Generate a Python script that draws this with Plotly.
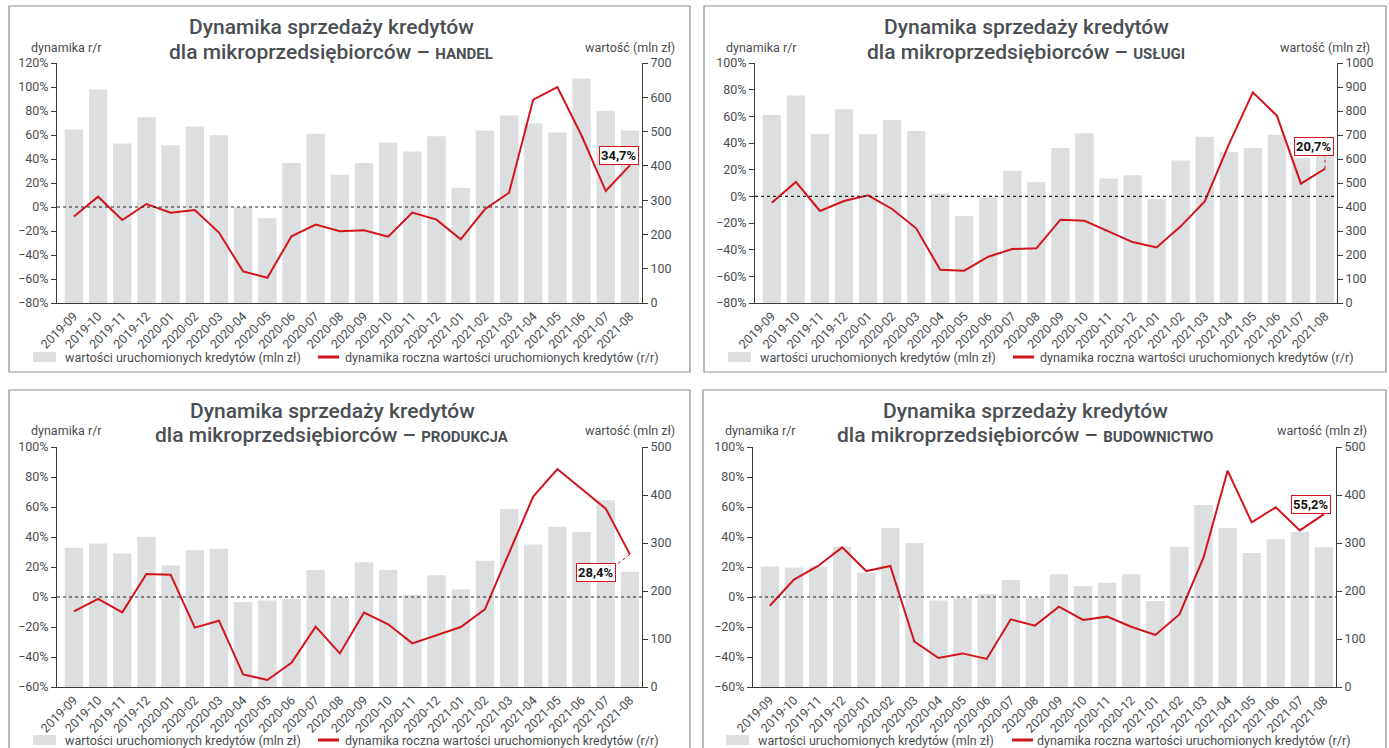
import plotly.graph_objects as go

# ---------------- data ----------------
months = ["2019-09", "2019-10", "2019-11", "2019-12", "2020-01", "2020-02", "2020-03",
          "2020-04", "2020-05", "2020-06", "2020-07", "2020-08", "2020-09", "2020-10",
          "2020-11", "2020-12", "2021-01", "2021-02", "2021-03", "2021-04", "2021-05",
          "2021-06", "2021-07", "2021-08"]

handel_val = [506, 623, 465, 542, 460, 515, 489, 279, 247, 408, 494, 374, 408, 468,
              442, 486, 336, 503, 547, 524, 497, 655, 561, 503]
handel_dyn = [-8.0, 8.6, -10.8, 2.5, -4.7, -2.5, -21.3, -53.7, -59.0, -24.4, -14.7, -20.2,
              -19.4, -24.7, -4.7, -10.5, -26.9, -1.9, 11.9, 89.5, 100.0, 59.6, 13.3, 34.7]

uslugi_val = [783, 865, 704, 807, 703, 762, 717, 456, 362, 440, 551, 504, 646, 707,
              519, 532, 433, 594, 693, 629, 646, 701, 604, 611]
uslugi_dyn = [-4.8, 10.8, -11.0, -3.5, 0.8, -9.5, -24.0, -55.0, -55.8, -45.3, -39.5, -39.0,
              -17.5, -18.3, -26.3, -34.3, -38.3, -22.5, -3.8, 38.8, 78.0, 60.5, 9.5, 20.7]

produkcja_val = [290, 299, 278, 313, 253, 285, 288, 177, 180, 184, 244, 187, 260, 244,
                 192, 233, 203, 263, 371, 297, 334, 323, 389, 240]
produkcja_dyn = [-9.6, -1.3, -10.2, 15.3, 14.9, -20.4, -15.8, -51.6, -55.3, -43.8, -19.8, -37.6,
                 -10.4, -18.2, -30.9, -25.3, -20.0, -8.2, 30.0, 66.9, 85.3, 71.8, 58.9, 28.4]

budownictwo_val = [251, 249, 251, 292, 238, 331, 300, 180, 186, 194, 223, 186, 235, 210,
                   217, 235, 179, 292, 379, 331, 279, 308, 323, 291]
budownictwo_dyn = [-5.8, 11.6, 20.7, 33.1, 17.3, 20.7, -29.8, -40.7, -37.6, -41.3, -14.9, -19.1,
                   -6.4, -15.3, -13.1, -19.8, -25.3, -11.6, 26.2, 84.2, 49.8, 59.8, 44.4, 55.2]

sectors = ["HANDEL", "USŁUGI", "PRODUKCJA", "BUDOWNICTWO"]
last_labels = ["34,7%", "20,7%", "28,4%", "55,2%"]
title_line1 = "Dynamika sprzedaży kredytów"
title_line2 = "dla mikroprzedsiębiorców – "
left_label = "dynamika r/r"
right_label = "wartość (mln zł)"
legend_bar = "wartości uruchomionych kredytów (mln zł)"
legend_line = "dynamika roczna wartości uruchomionych kredytów (r/r)"

# ---------------- layout config ----------------
W, H = 1389, 748
FONT = "Roboto"
TXT = "#4a4d50"
TITLE_C = "#4a4f54"
BAR_C = "#dcdedf"
RED = "#d3141c"
AX_C = "#3a3a3a"

panels = [
    dict(val=handel_val, dyn=handel_dyn, px=(57, 642), py=(63, 303), lr=[-80, 120], rr=[0, 700],
         rd=100, box=(9, 6, 690, 372), tcx=331, ty=(27, 52), ll=29, rl=677,
         leg=(33, 56, 62.5, 318, 339, 343, 357), ann=(-11, 9.5), lead=None),
    dict(val=uslugi_val, dyn=uslugi_dyn, px=(755, 1337), py=(63, 303), lr=[-80, 100], rr=[0, 1000],
         rd=100, box=(704, 6, 1386, 372), tcx=1026, ty=(27, 52), ll=724, rl=1372,
         leg=(728, 751, 758, 1013, 1034, 1037.5, 357), ann=(-10.5, 22.5), lead=(0, 0, 0, 16)),
    dict(val=produkcja_val, dyn=produkcja_dyn, px=(57, 642), py=(447, 687), lr=[-60, 100], rr=[0, 500],
         rd=100, box=(9, 390, 690, 760), tcx=332, ty=(411, 435), ll=29, rl=677,
         leg=(33, 56, 62.5, 318, 339, 343, 740), ann=(-34, -18), lead=(0, 0, -17, -13)),
    dict(val=budownictwo_val, dyn=budownictwo_dyn, px=(753, 1336), py=(447, 687), lr=[-60, 100], rr=[0, 500],
         rd=100, box=(703, 390, 1386, 760), tcx=1025, ty=(411, 435), ll=722.5, rl=1369,
         leg=(726, 749, 755.7, 1012, 1033, 1035, 740), ann=(-12.5, 10), lead=None),
]


def fx(x):
    return x / W


def fy(y):
    return 1 - y / H


fig = go.Figure()
shapes = []
annotations = []
layout = {}

for i, p in enumerate(panels):
    xn = "" if i == 0 else str(i + 1)
    xid = "x" + xn
    by = 2 * i + 1
    ly = 2 * i + 2
    byid = "y" + ("" if by == 1 else str(by))
    lyid = "y" + str(ly)

    fig.add_trace(go.Bar(x=months, y=p["val"], xaxis=xid, yaxis=byid, marker_color=BAR_C,
                         marker_line_width=0, width=0.76, showlegend=False, hoverinfo="skip"))
    fig.add_trace(go.Scatter(x=months, y=p["dyn"], xaxis=xid, yaxis=lyid, mode="lines",
                             line=dict(color=RED, width=2), showlegend=False, hoverinfo="skip"))

    dom_x = [fx(p["px"][0]), fx(p["px"][1])]
    dom_y = [fy(p["py"][1]), fy(p["py"][0])]
    tickfont = dict(family=FONT, size=12.5, color=TXT)

    layout["xaxis" + xn] = dict(domain=dom_x, anchor=byid, type="category", range=[-0.7, 23.5],
                                tickangle=-45, tickfont=tickfont, showline=True, linecolor=AX_C,
                                linewidth=1, ticks="", showgrid=False, zeroline=False,
                                fixedrange=True, automargin=False)
    layout["yaxis" + ("" if by == 1 else str(by))] = dict(
        domain=dom_y, anchor=xid, side="right", range=p["rr"], dtick=p["rd"], showline=True,
        linecolor=AX_C, linewidth=1, ticks="outside", ticklen=5, tickcolor=AX_C,
        tickfont=tickfont, showgrid=False, zeroline=False, fixedrange=True, automargin=False)
    layout["yaxis" + str(ly)] = dict(
        domain=dom_y, anchor=xid, overlaying=byid, side="left", range=p["lr"], dtick=20,
        ticksuffix="%", showline=True, linecolor=AX_C, linewidth=1, ticks="outside", ticklen=5,
        tickcolor=AX_C, tickfont=tickfont, showgrid=False, zeroline=False, fixedrange=True,
        automargin=False)

    # panel border
    bx0, by0, bx1, by1 = p["box"]
    shapes.append(dict(type="rect", xref="paper", yref="paper", x0=fx(bx0), x1=fx(bx1),
                       y0=fy(by1), y1=fy(by0), line=dict(color="#8a8d90", width=1.2),
                       fillcolor="rgba(0,0,0,0)", layer="below"))
    # zero dotted line
    shapes.append(dict(type="line", xref=xid + " domain", yref=lyid, x0=0, x1=1, y0=0, y1=0,
                       line=dict(color="#222222", width=1.2, dash="dot"), layer="above"))

    # titles
    annotations.append(dict(xref="paper", yref="paper", x=fx(p["tcx"]), y=fy(p["ty"][0]),
                            text=title_line1, showarrow=False, xanchor="center", yanchor="middle",
                            font=dict(family=FONT, size=21, color=TITLE_C, weight=500)))
    annotations.append(dict(xref="paper", yref="paper", x=fx(p["tcx"]), y=fy(p["ty"][1]),
                            text=title_line2 + "<b><span style='font-size:15px'>" + sectors[i]
                                 + "</span></b>",
                            showarrow=False, xanchor="center", yanchor="middle",
                            font=dict(family=FONT, size=21, color=TITLE_C, weight=500)))
    # axis captions
    annotations.append(dict(xref="paper", yref="paper", x=fx(p["ll"]), y=fy(p["ty"][1] - 5),
                            text=left_label, showarrow=False, xanchor="left", yanchor="middle",
                            font=dict(family=FONT, size=12.5, color=TXT)))
    annotations.append(dict(xref="paper", yref="paper", x=fx(p["rl"]), y=fy(p["ty"][1] - 5),
                            text=right_label, showarrow=False, xanchor="right", yanchor="middle",
                            font=dict(family=FONT, size=12.5, color=TXT)))

    # legend
    sx0, sx1, stx, lx0, lx1, ltx, ly_ = p["leg"]
    shapes.append(dict(type="rect", xref="paper", yref="paper", x0=fx(sx0), x1=fx(sx1),
                       y0=fy(ly_ + 5), y1=fy(ly_ - 5), fillcolor=BAR_C, line=dict(width=0)))
    shapes.append(dict(type="line", xref="paper", yref="paper", x0=fx(lx0), x1=fx(lx1),
                       y0=fy(ly_), y1=fy(ly_), line=dict(color=RED, width=3)))
    annotations.append(dict(xref="paper", yref="paper", x=fx(stx), y=fy(ly_), text=legend_bar,
                            showarrow=False, xanchor="left", yanchor="middle",
                            font=dict(family=FONT, size=12.5, color=TXT)))
    annotations.append(dict(xref="paper", yref="paper", x=fx(ltx), y=fy(ly_), text=legend_line,
                            showarrow=False, xanchor="left", yanchor="middle",
                            font=dict(family=FONT, size=12.5, color=TXT)))

    # last-value label
    annotations.append(dict(xref=xid, yref=lyid, x=months[-1], y=p["dyn"][-1],
                            xshift=p["ann"][0], yshift=p["ann"][1], text="<b>" + last_labels[i] + "</b>",
                            showarrow=False, xanchor="center", yanchor="middle",
                            font=dict(family=FONT, size=13, color="#111111"),
                            bgcolor="white", bordercolor=RED, borderwidth=1, borderpad=1))
    if p["lead"] is not None:
        a, b, c, d = p["lead"]
        shapes.append(dict(type="line", xref=xid, yref=lyid, xsizemode="pixel", ysizemode="pixel",
                           xanchor=months[-1], yanchor=p["dyn"][-1], x0=a, y0=b, x1=c, y1=d,
                           line=dict(color=RED, width=1, dash="dot")))

fig.update_layout(**layout)
fig.update_layout(width=W, height=H, margin=dict(l=0, r=0, t=0, b=0), autosize=False,
                  paper_bgcolor="white", plot_bgcolor="rgba(0,0,0,0)", barmode="overlay",
                  shapes=shapes, annotations=annotations, showlegend=False,
                  font=dict(family=FONT, color=TXT))

fig.write_html("out.html", config={"displayModeBar": False},
               post_script="document.body.style.margin='0';document.body.style.overflow='hidden';")
